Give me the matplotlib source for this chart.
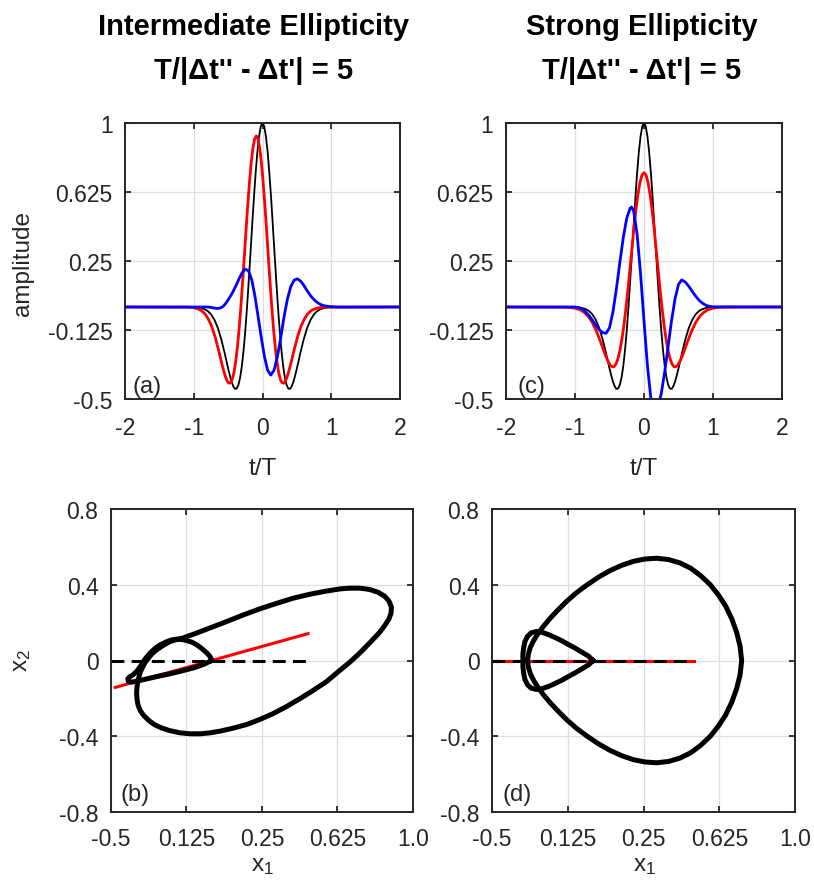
import matplotlib
matplotlib.use("Agg")
import matplotlib.pyplot as plt

plt.rcParams['font.family'] = ['Liberation Sans', 'DejaVu Sans']
plt.rcParams['mathtext.default'] = 'regular'
plt.rcParams['axes.unicode_minus'] = False

# ---------------- pulse amplitudes vs t/T (panels a, c) ----------------
# black pulse is the same in both columns
black_t = [-2.0, -1.0, -0.95, -0.9, -0.85, -0.8, -0.75, -0.7, -0.65, -0.6, -0.55,
           -0.5, -0.475, -0.45, -0.425, -0.4, -0.375, -0.35, -0.325, -0.3, -0.275,
           -0.25, -0.225, -0.2, -0.175, -0.15, -0.125, -0.1, -0.075, -0.05, -0.025, 0.0,
           0.025, 0.05, 0.075, 0.1, 0.125, 0.15, 0.175, 0.2, 0.225, 0.25,
           0.275, 0.3, 0.325, 0.35, 0.375, 0.4, 0.425, 0.45, 0.475, 0.5,
           0.55, 0.6, 0.65, 0.7, 0.75, 0.8, 0.85, 0.9, 0.95, 1.0, 2.0]
black_amp = [0.0, -0.001, -0.002, -0.005, -0.011, -0.021, -0.039, -0.069, -0.113, -0.175, -0.251,
             -0.334, -0.372, -0.406, -0.431, -0.445, -0.443, -0.423, -0.383, -0.320, -0.234,
             -0.127, 0.0, 0.142, 0.292, 0.445, 0.593, 0.727, 0.841, 0.927, 0.982, 1.0,
             0.982, 0.927, 0.841, 0.727, 0.593, 0.445, 0.292, 0.142, 0.0, -0.127,
             -0.234, -0.320, -0.383, -0.423, -0.443, -0.445, -0.431, -0.406, -0.372, -0.334,
             -0.251, -0.175, -0.113, -0.069, -0.039, -0.021, -0.011, -0.005, -0.002, -0.001, 0.0]

# intermediate ellipticity
red_a_t = [-2.0, -1.09, -1.04, -0.99, -0.94, -0.89, -0.84, -0.79, -0.74, -0.69, -0.64,
           -0.59, -0.565, -0.54, -0.515, -0.49, -0.465, -0.44, -0.415, -0.39, -0.365,
           -0.34, -0.315, -0.29, -0.265, -0.24, -0.215, -0.19, -0.165, -0.14, -0.115, -0.09,
           -0.065, -0.04, -0.015, 0.01, 0.035, 0.06, 0.085, 0.11, 0.135, 0.16,
           0.185, 0.21, 0.235, 0.26, 0.285, 0.31, 0.335, 0.36, 0.385, 0.41,
           0.46, 0.51, 0.56, 0.61, 0.66, 0.71, 0.76, 0.81, 0.86, 0.91, 2.0]
red_a_amp = [0.0, -0.001, -0.002, -0.005, -0.010, -0.019, -0.036, -0.064, -0.105, -0.162, -0.233,
             -0.310, -0.346, -0.378, -0.401, -0.414, -0.412, -0.394, -0.356, -0.297, -0.218,
             -0.118, 0.0, 0.132, 0.272, 0.414, 0.551, 0.676, 0.782, 0.862, 0.913, 0.930,
             0.913, 0.862, 0.782, 0.676, 0.551, 0.414, 0.272, 0.132, 0.0, -0.118,
             -0.218, -0.297, -0.356, -0.394, -0.412, -0.414, -0.401, -0.378, -0.346, -0.310,
             -0.233, -0.162, -0.105, -0.064, -0.036, -0.019, -0.010, -0.005, -0.002, -0.001, 0.0]

blue_a_t = [-2.0, -0.80, -0.754, -0.708, -0.662, -0.616, -0.57, -0.524, -0.478, -0.432, -0.386,
            -0.34, -0.294, -0.248, -0.202, -0.156, -0.11, -0.064, -0.018, 0.028, 0.074, 0.12,
            0.169, 0.217, 0.266, 0.314, 0.363, 0.411, 0.460, 0.508, 0.557, 0.605, 0.654,
            0.702, 0.751, 0.799, 0.848, 0.896, 0.945, 0.993, 1.09, 2.0]
blue_a_amp = [0.0, 0.0, -0.002, -0.005, -0.008, -0.006, 0.004, 0.025, 0.052, 0.081, 0.116,
              0.154, 0.188, 0.206, 0.196, 0.148, 0.059, -0.052, -0.165, -0.269, -0.343, -0.370,
              -0.343, -0.269, -0.165, -0.052, 0.044, 0.110, 0.146, 0.153, 0.140, 0.115, 0.086,
              0.060, 0.039, 0.024, 0.013, 0.007, 0.004, 0.002, 0.0, 0.0]

# strong ellipticity
red_c_t = [-2.0, -1.156, -1.098, -1.040, -0.983, -0.925, -0.867, -0.809, -0.751, -0.694, -0.636,
           -0.578, -0.549, -0.520, -0.491, -0.462, -0.434, -0.405, -0.376, -0.347, -0.318,
           -0.289, -0.260, -0.231, -0.202, -0.173, -0.145, -0.116, -0.087, -0.058, -0.029, 0.0,
           0.029, 0.058, 0.087, 0.116, 0.145, 0.173, 0.202, 0.231, 0.260, 0.289,
           0.318, 0.347, 0.376, 0.405, 0.434, 0.462, 0.491, 0.520, 0.549, 0.578,
           0.636, 0.694, 0.751, 0.809, 0.867, 0.925, 0.983, 1.040, 1.098, 1.156, 2.0]
red_c_amp = [0.0, -0.001, -0.002, -0.004, -0.008, -0.015, -0.029, -0.050, -0.083, -0.127, -0.183,
             -0.243, -0.272, -0.296, -0.315, -0.325, -0.324, -0.309, -0.279, -0.233, -0.171,
             -0.092, 0.0, 0.103, 0.213, 0.325, 0.433, 0.531, 0.614, 0.677, 0.717, 0.730,
             0.717, 0.677, 0.614, 0.531, 0.433, 0.325, 0.213, 0.103, 0.0, -0.092,
             -0.171, -0.233, -0.279, -0.309, -0.324, -0.325, -0.315, -0.296, -0.272, -0.243,
             -0.183, -0.127, -0.083, -0.050, -0.029, -0.015, -0.008, -0.004, -0.002, -0.001, 0.0]

blue_c_t = [-2.0, -1.0, -0.95, -0.9, -0.85, -0.8, -0.75, -0.7, -0.65, -0.6, -0.55,
            -0.5, -0.45, -0.4, -0.35, -0.3, -0.25, -0.2, -0.179, -0.15, -0.1, -0.05,
            0.0, 0.05, 0.1, 0.155, 0.2, 0.25, 0.3, 0.35, 0.4, 0.45, 0.5, 0.546,
            0.6, 0.65, 0.7, 0.75, 0.8, 0.85, 0.9, 0.95, 1.0, 2.0]
blue_c_amp = [0.0, 0.0, -0.003, -0.010, -0.025, -0.045, -0.070, -0.098, -0.123, -0.139, -0.143,
              -0.113, -0.027, 0.099, 0.242, 0.378, 0.483, 0.538, 0.543, 0.522, 0.396, 0.181,
              -0.076, -0.320, -0.497, -0.570, -0.547, -0.471, -0.353, -0.213, -0.072, 0.045, 0.123, 0.147,
              0.135, 0.112, 0.085, 0.058, 0.036, 0.020, 0.009, 0.003, 0.001, 0.0]

# ---------------- field trajectories x1-x2 (panels b, d) ----------------
# (b) large loop, closed
loop_b_x1 = [-0.156, -0.090, -0.008, 0.075, 0.158, 0.240, 0.323, 0.405, 0.488, 0.571, 0.637,
             0.686, 0.736, 0.785, 0.827, 0.860, 0.881, 0.893, 0.891, 0.881, 0.860, 0.832,
             0.785, 0.736, 0.686, 0.628, 0.571, 0.504, 0.438, 0.372, 0.306, 0.240, 0.174,
             0.108, 0.042, -0.008, -0.057, -0.107, -0.156, -0.206, -0.247, -0.284, -0.313,
             -0.338, -0.355, -0.366, -0.371, -0.373, -0.371, -0.366, -0.355, -0.343, -0.330,
             -0.313, -0.297, -0.275, -0.255, -0.231, -0.206, -0.181, -0.156]
loop_b_x2 = [0.114, 0.139, 0.172, 0.206, 0.241, 0.273, 0.302, 0.329, 0.350, 0.367, 0.378,
             0.382, 0.382, 0.375, 0.360, 0.339, 0.313, 0.281, 0.251, 0.220, 0.185, 0.146,
             0.093, 0.040, -0.009, -0.060, -0.111, -0.158, -0.202, -0.243, -0.280, -0.311, -0.338,
             -0.357, -0.373, -0.382, -0.387, -0.387, -0.382, -0.371, -0.357, -0.339, -0.316,
             -0.290, -0.264, -0.234, -0.202, -0.171, -0.141, -0.105, -0.062, -0.035, -0.009,
             0.014, 0.035, 0.055, 0.070, 0.086, 0.100, 0.109, 0.114]
# (b) small lobe starting and ending at the origin
lobe_b_x1 = [0.0, -0.008, -0.024, -0.049, -0.074, -0.099, -0.123, -0.148, -0.173, -0.198,
             -0.222, -0.255, -0.280, -0.305, -0.330, -0.351, -0.371, -0.391, -0.407, -0.417,
             -0.414, -0.401, -0.379, -0.322, -0.264, -0.206, -0.148, -0.090, -0.041, 0.0]
lobe_b_x2 = [0.0, 0.021, 0.040, 0.063, 0.083, 0.097, 0.105, 0.111, 0.113, 0.109,
             0.100, 0.083, 0.065, 0.040, 0.009, -0.026, -0.056, -0.076, -0.086, -0.097,
             -0.109, -0.114, -0.111, -0.097, -0.083, -0.070, -0.055, -0.039, -0.021, 0.0]
# (b) major axis of the ellipse
axis_b_x1 = [-0.479, 0.479]
axis_b_x2 = [-0.142, 0.142]

# (d) large loop, closed
loop_d_x1 = [-0.324, -0.320, -0.310, -0.294, -0.273, -0.245, -0.212, -0.175, -0.132, -0.083,
             -0.030, 0.027, 0.085, 0.143, 0.201, 0.258, 0.316, 0.374, 0.431, 0.484,
             0.533, 0.580, 0.621, 0.657, 0.687, 0.711, 0.728, 0.736,
             0.728, 0.711, 0.687, 0.657, 0.621, 0.580, 0.533, 0.484, 0.431, 0.374,
             0.316, 0.258, 0.201, 0.143, 0.085, 0.027, -0.030, -0.083, -0.132, -0.175,
             -0.212, -0.245, -0.273, -0.294, -0.310, -0.320, -0.324]
loop_d_x2 = [0.0, 0.035, 0.070, 0.105, 0.141, 0.181, 0.223, 0.265, 0.311, 0.357,
             0.399, 0.440, 0.475, 0.503, 0.524, 0.536, 0.540, 0.533, 0.515, 0.487,
             0.448, 0.401, 0.346, 0.287, 0.220, 0.149, 0.076, 0.0,
             -0.076, -0.149, -0.220, -0.287, -0.346, -0.401, -0.448, -0.487, -0.515, -0.533,
             -0.540, -0.536, -0.524, -0.503, -0.475, -0.440, -0.399, -0.357, -0.311, -0.265,
             -0.223, -0.181, -0.141, -0.105, -0.070, -0.035, 0.0]
# (d) small lobe through the origin
lobe_d_x1 = [0.0, -0.022, -0.055, -0.088, -0.121, -0.154, -0.187, -0.220, -0.253, -0.281,
             -0.306, -0.324, -0.337, -0.343, -0.347, -0.347,
             -0.347, -0.343, -0.337, -0.324, -0.306, -0.281, -0.253, -0.220, -0.187,
             -0.154, -0.121, -0.088, -0.055, -0.022, 0.0]
lobe_d_x2 = [0.0, 0.023, 0.044, 0.065, 0.084, 0.104, 0.121, 0.137, 0.149, 0.153,
             0.146, 0.128, 0.100, 0.069, 0.035, 0.0,
             -0.035, -0.069, -0.100, -0.128, -0.146, -0.153, -0.149, -0.137, -0.121,
             -0.104, -0.084, -0.065, -0.044, -0.023, 0.0]
axis_d_x1 = [-0.5, 0.5]
axis_d_x2 = [0.0, 0.0]

ref_x1 = [-0.5, 0.5]
ref_x2 = [0.0, 0.0]

# tick values / labels
amp_ticks = [-0.5, -0.125, 0.25, 0.625, 1.0]
amp_labels = ['-0.5', '-0.125', '0.25', '0.625', '1']
t_ticks = [-2, -1, 0, 1, 2]
x1_ticks = [-0.5, -0.125, 0.25, 0.625, 1.0]
x1_labels = ['-0.5', '0.125', '0.25', '0.625', '1.0']
x2_ticks = [-0.8, -0.4, 0.0, 0.4, 0.8]
x2_labels = ['-0.8', '-0.4', '0', '0.4', '0.8']

DARK = '#262626'
W, H = 814, 887


def box(l, t, r, b):
    # pixel box -> figure fraction rect
    return [l / W, 1 - b / H, (r - l) / W, (b - t) / H]


def style(ax, xpad=12):
    ax.grid(True, color='#dedede', lw=0.9)
    ax.set_axisbelow(True)
    ax.tick_params(direction='in', top=True, right=True, length=4, width=1.3,
                   color=DARK, labelcolor=DARK, labelsize=16.5)
    ax.tick_params(axis='x', pad=xpad)
    ax.tick_params(axis='y', pad=9)
    for s in ax.spines.values():
        s.set_color(DARK)
        s.set_linewidth(1.4)


fig = plt.figure(figsize=(W / 100, H / 100), dpi=100)

ax_a = fig.add_axes(box(125, 124, 400, 400))
ax_c = fig.add_axes(box(506, 124, 782, 400))
ax_b = fig.add_axes(box(111, 510, 413, 813))
ax_d = fig.add_axes(box(492, 510, 795, 813))

for ax, rt, ra, bt, ba in [(ax_a, red_a_t, red_a_amp, blue_a_t, blue_a_amp),
                           (ax_c, red_c_t, red_c_amp, blue_c_t, blue_c_amp)]:
    style(ax)
    ax.plot(black_t, black_amp, color='black', lw=1.3)
    ax.plot(rt, ra, color='#ff0000', lw=2.0)
    ax.plot(bt, ba, color='#0000ff', lw=2.0)
    ax.set_xlim(-2, 2)
    ax.set_ylim(-0.5, 1.0)
    ax.set_xticks(t_ticks)
    ax.set_yticks(amp_ticks)
    ax.set_yticklabels(amp_labels)

for ax, lx, ly, sx, sy, mx, my in [(ax_b, loop_b_x1, loop_b_x2, lobe_b_x1, lobe_b_x2, axis_b_x1, axis_b_x2),
                                   (ax_d, loop_d_x1, loop_d_x2, lobe_d_x1, lobe_d_x2, axis_d_x1, axis_d_x2)]:
    style(ax, xpad=10.5)
    ax.plot(mx, my, color='#ff0000', lw=2.2)
    ax.plot(ref_x1, ref_x2, color='black', lw=2.2, linestyle=(0, (4.2, 2.4)))
    ax.plot(lx, ly, color='black', lw=3.6, solid_joinstyle='round')
    ax.plot(sx, sy, color='black', lw=3.6, solid_joinstyle='round')
    ax.set_xlim(-0.5, 1.0)
    ax.set_ylim(-0.8, 0.8)
    ax.set_xticks(x1_ticks)
    ax.set_xticklabels(x1_labels)
    ax.set_yticks(x2_ticks)
    ax.set_yticklabels(x2_labels)

for ax, lab, xo, yo in [(ax_a, '(a)', 0.029, 0.008), (ax_c, '(c)', 0.043, 0.008),
                        (ax_b, '(b)', 0.030, 0.024), (ax_d, '(d)', 0.036, 0.024)]:
    ax.text(xo, yo, lab, transform=ax.transAxes, ha='left', va='bottom',
            fontsize=17, color=DARK)

# column titles
for cx, name in [(254, 'Intermediate Ellipticity'), (642, 'Strong Ellipticity')]:
    fig.text(cx / W, 1 - 35 / H, name, ha='center', va='baseline',
             fontsize=21, fontweight='bold', color='black')
    fig.text(cx / W, 1 - 79 / H, "T/|\u0394t'' - \u0394t'| = 5", ha='center', va='baseline',
             fontsize=21, fontweight='bold', color='black')

# axis labels
for cx in (262.5, 644):
    fig.text(cx / W, 1 - 469 / H, 't/T', ha='center', va='center', fontsize=17.5, color=DARK)
    fig.text(cx / W, 1 - 866 / H, '$x_1$', ha='center', va='center', fontsize=17.5, color=DARK)
fig.text(23 / W, 1 - 264 / H, 'amplitude', ha='center', va='center', rotation=90,
         fontsize=17.5, color=DARK)
fig.text(22 / W, 1 - 661 / H, '$x_2$', ha='center', va='center', rotation=90,
         fontsize=17.5, color=DARK)

fig.savefig('out.png', dpi=100)
